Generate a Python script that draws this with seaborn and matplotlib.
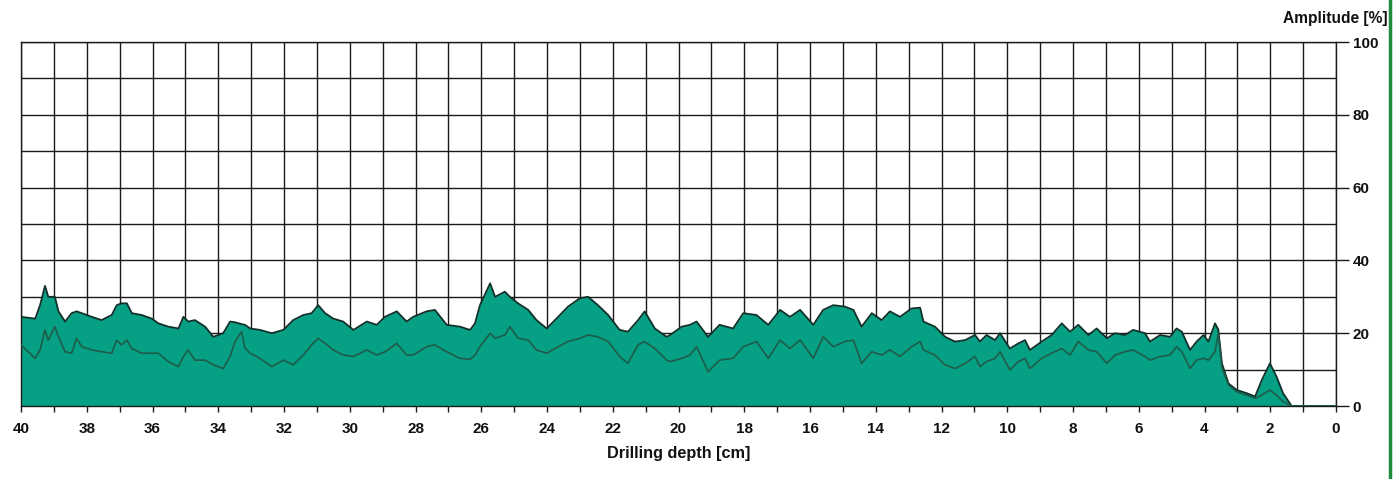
import numpy as np
import matplotlib.pyplot as plt
import seaborn as sns
import pandas as pd
from matplotlib.lines import Line2D
from matplotlib.ticker import MultipleLocator

# drilling depth [cm] and the two amplitude curves [%]
depth = [40.00, 39.57, 39.42, 39.27, 39.17, 38.97, 38.86, 38.66, 38.46, 38.31,
         38.15, 37.85, 37.55, 37.24, 37.09, 36.94, 36.78, 36.63, 36.33, 36.02,
         35.82, 35.52, 35.21, 35.06, 34.91, 34.71, 34.40, 34.15, 33.85, 33.64,
         33.49, 33.29, 33.19, 33.03, 32.73, 32.37, 32.02, 31.72, 31.41, 31.16,
         30.96, 30.75, 30.50, 30.20, 29.89, 29.48, 29.18, 28.93, 28.57, 28.27,
         28.07, 27.66, 27.41, 27.05, 26.65, 26.34, 26.19, 26.04, 25.73, 25.58,
         25.28, 25.13, 24.88, 24.57, 24.32, 24.01, 23.66, 23.36, 23.00, 22.75,
         22.45, 22.14, 21.79, 21.54, 21.23, 21.03, 20.72, 20.36, 20.26, 19.90,
         19.65, 19.45, 19.10, 18.75, 18.34, 18.03, 17.63, 17.27, 16.91, 16.61,
         16.30, 15.90, 15.60, 15.29, 14.94, 14.68, 14.43, 14.12, 13.82, 13.57,
         13.26, 12.91, 12.65, 12.55, 12.20, 11.89, 11.59, 11.28, 10.98, 10.83,
         10.63, 10.37, 10.22, 9.92, 9.66, 9.46, 9.31, 8.95, 8.65, 8.34,
         8.09, 7.84, 7.53, 7.28, 6.97, 6.72, 6.42, 6.17, 5.81, 5.66,
         5.35, 5.05, 4.85, 4.69, 4.44, 4.24, 4.03, 3.88, 3.68, 3.58,
         3.47, 3.27, 3.02, 2.71, 2.46, 2.26, 2.01, 1.81, 1.61, 1.35,
         0.00]

amplitude = [24.5, 24.0, 27.7, 33.0, 30.0, 30.0, 26.0, 23.2, 25.5, 26.0,
             25.5, 24.5, 23.6, 25.0, 27.7, 28.2, 28.2, 25.5, 25.0, 24.0,
             22.7, 21.8, 21.3, 24.5, 23.2, 23.6, 21.8, 19.0, 20.0, 23.2,
             23.0, 22.5, 22.3, 21.3, 20.9, 20.0, 20.9, 23.6, 25.0, 25.5,
             27.7, 25.5, 24.0, 23.2, 20.9, 23.2, 22.3, 24.5, 26.0, 23.2,
             24.5, 26.0, 26.4, 22.3, 21.8, 20.9, 22.7, 27.7, 33.7, 30.0,
             31.4, 30.0, 28.2, 26.4, 23.6, 21.3, 24.5, 27.3, 29.6, 30.0,
             27.7, 25.0, 20.9, 20.4, 23.6, 26.0, 21.3, 19.0, 19.5, 21.8,
             22.3, 23.2, 19.0, 22.3, 21.3, 25.5, 25.0, 22.3, 26.4, 24.5,
             26.4, 22.3, 26.4, 27.7, 27.3, 26.4, 21.8, 25.5, 23.6, 26.0,
             24.5, 26.8, 27.0, 23.2, 21.8, 19.0, 17.7, 18.1, 19.5, 17.7,
             19.5, 18.1, 20.0, 15.8, 17.2, 18.1, 15.4, 17.7, 19.5, 22.7,
             20.4, 22.3, 19.5, 21.3, 18.6, 20.0, 19.5, 20.9, 20.0, 17.7,
             19.5, 19.0, 21.3, 20.4, 15.4, 17.7, 19.5, 17.7, 22.7, 21.0,
             11.7, 6.2, 4.4, 3.5, 2.6, 7.1, 11.7, 8.1, 3.5, 0.0,
             0.0]

feed = [16.8, 13.1, 15.4, 20.9, 18.1, 21.8, 19.0, 14.9, 14.5, 18.6,
        16.3, 15.4, 14.9, 14.5, 18.1, 16.8, 18.1, 15.8, 14.5, 14.5,
        14.5, 12.2, 10.8, 13.6, 15.4, 12.6, 12.6, 11.3, 10.3, 13.6,
        17.7, 20.4, 16.0, 14.5, 13.1, 10.8, 12.6, 11.3, 14.0, 16.8,
        18.6, 17.2, 15.4, 14.0, 13.6, 15.4, 14.0, 14.9, 17.2, 14.0,
        14.0, 16.3, 16.8, 14.9, 13.1, 12.8, 14.0, 16.3, 20.0, 18.6,
        19.5, 21.8, 18.6, 18.1, 15.4, 14.5, 16.3, 17.7, 18.6, 19.5,
        19.0, 17.7, 13.6, 11.7, 16.8, 17.7, 15.8, 12.6, 12.2, 13.1,
        14.0, 16.3, 9.4, 12.6, 13.1, 16.3, 17.7, 13.1, 18.1, 15.8,
        18.1, 13.1, 19.0, 16.3, 17.7, 18.1, 11.7, 14.9, 14.0, 15.4,
        13.6, 16.3, 17.7, 15.4, 14.0, 11.3, 10.3, 11.7, 13.6, 10.8,
        12.2, 13.1, 14.9, 9.9, 12.2, 13.1, 10.3, 13.1, 14.5, 15.8,
        14.0, 17.7, 15.4, 14.9, 11.7, 14.0, 14.9, 15.4, 13.6, 12.6,
        13.6, 14.0, 16.3, 14.9, 10.3, 12.6, 13.1, 12.6, 14.9, 20.0,
        10.5, 5.8, 3.9, 3.0, 2.1, 3.0, 4.4, 3.0, 1.2, 0.0,
        0.0]

df = pd.DataFrame({"depth": depth, "amplitude": amplitude, "feed": feed})

sns.set_style("white")
plt.rcParams["font.family"] = ["Liberation Sans", "DejaVu Sans"]
plt.rcParams["font.weight"] = "bold"
plt.rcParams["text.color"] = "#111111"
plt.rcParams["axes.labelcolor"] = "#111111"
plt.rcParams["xtick.color"] = "#111111"
plt.rcParams["ytick.color"] = "#111111"

fig = plt.figure(figsize=(13.94, 4.79), dpi=100)
ax = fig.add_axes([21 / 1394, 1 - 406 / 479, (1336 - 21) / 1394, (406 - 42) / 479])

# green area under the amplitude curve
ax.fill_between(df["depth"], df["amplitude"], 0, color="#06a084", lw=0, zorder=2)
sns.lineplot(data=df, x="depth", y="amplitude", color="#10302a", lw=1.3,
             sort=False, ax=ax, zorder=3)
sns.lineplot(data=df, x="depth", y="feed", color="#1f5c4a", lw=1.2,
             sort=False, ax=ax, zorder=3)

ax.set_xlim(40, 0)
ax.set_ylim(0, 100)

ax.xaxis.set_major_locator(MultipleLocator(2))
ax.xaxis.set_minor_locator(MultipleLocator(1))
ax.yaxis.set_major_locator(MultipleLocator(20))
ax.yaxis.set_minor_locator(MultipleLocator(10))
ax.set_xticklabels([str(int(t)) for t in ax.get_xticks()])

ax.grid(which="both", color="#1a1a1a", lw=1.0)
ax.set_axisbelow(True)
for s in ax.spines.values():
    s.set_color("#1a1a1a")
    s.set_linewidth(1.0)

ax.yaxis.tick_right()
ax.tick_params(axis="y", which="major", direction="out", length=9, width=1,
               color="#1a1a1a", labelsize=11, pad=3, right=True, left=False)
ax.tick_params(axis="y", which="minor", length=0)
ax.tick_params(axis="x", which="major", direction="out", length=4, width=1,
               color="#1a1a1a", labelsize=11, pad=7.5, bottom=True)
ax.tick_params(axis="x", which="minor", direction="out", length=4, width=1,
               color="#1a1a1a", bottom=True)
for lab in ax.get_xticklabels() + ax.get_yticklabels():
    lab.set_fontweight("bold")

ax.set_xlabel("Drilling depth [cm]", fontsize=11.7, fontweight="bold", labelpad=7)
ax.set_ylabel("")
fig.text(1388 / 1394, 1 - 18 / 479, "Amplitude [%]", ha="right", va="center",
         fontsize=11.2, fontweight="bold")

# green frame line on the right edge
fig.add_artist(Line2D([1390 / 1394, 1390 / 1394], [0, 1], color="#1e8a3c", lw=2.5,
                      transform=fig.transFigure))

plt.savefig("out.png", dpi=100)
